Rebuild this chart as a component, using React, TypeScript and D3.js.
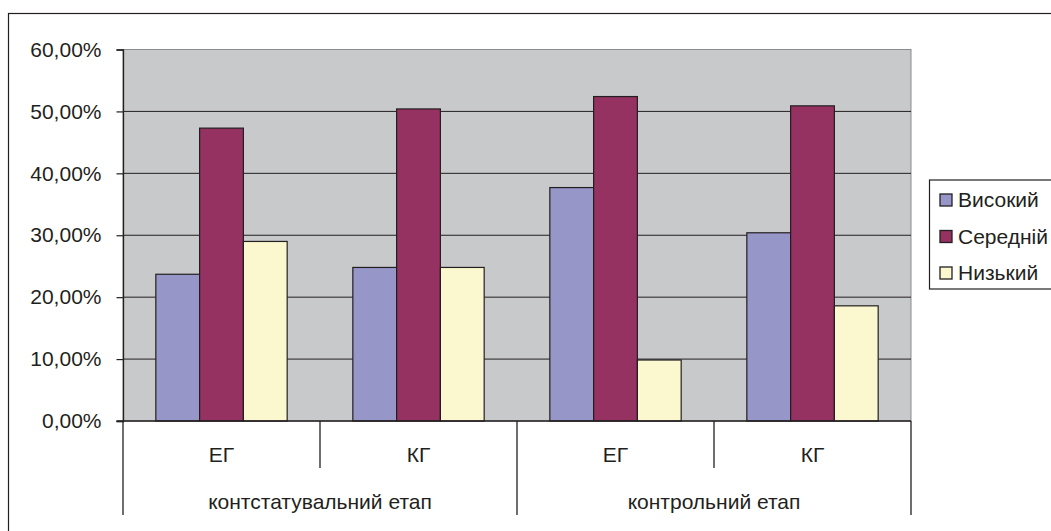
import React, { useEffect, useRef } from "react";
import * as d3 from "d3";

// DATA
const groups = ["ЕГ", "КГ", "ЕГ", "КГ"];
const stages = ["контстатувальний етап", "контрольний етап"];
const seriesNames = ["Високий", "Середній", "Низький"];
const high = [0.237, 0.248, 0.377, 0.304];
const middle = [0.473, 0.504, 0.524, 0.509];
const low = [0.29, 0.248, 0.0985, 0.186];
const yTicks = [0, 0.1, 0.2, 0.3, 0.4, 0.5, 0.6];

const colors = ["#9696c9", "#963262", "#fbf8cf"];
const ink = "#231f20";

export default function App() {
  const ref = useRef<SVGSVGElement | null>(null);

  useEffect(() => {
    const svg = d3.select(ref.current);
    svg.selectAll("*").remove();

    const left = 123;
    const right = 911;
    const top = 49.5;
    const bottom = 421;
    const font = "Arial, 'Liberation Sans', sans-serif";
    const fs = 21;

    // outer frame (clipped on right/bottom like the source)
    svg
      .append("rect")
      .attr("x", 8.5)
      .attr("y", 13.5)
      .attr("width", 1200)
      .attr("height", 700)
      .attr("fill", "#fff")
      .attr("stroke", ink)
      .attr("stroke-width", 1.2);

    // SCALES
    const x0 = d3
      .scaleBand<number>()
      .domain(d3.range(groups.length))
      .range([left, right])
      .padding(0);
    const x1 = d3
      .scaleBand<string>()
      .domain(seriesNames)
      .range([0, x0.bandwidth()])
      .paddingInner(0)
      .paddingOuter(0.75);
    const y = d3.scaleLinear().domain([0, 0.6]).range([bottom, top]);

    // plot area
    svg
      .append("rect")
      .attr("x", left)
      .attr("y", top)
      .attr("width", right - left)
      .attr("height", bottom - top)
      .attr("fill", "#c8c9cb")
      .attr("stroke", "#8a8b8d")
      .attr("stroke-width", 1);

    // Y GRID
    svg
      .append("g")
      .selectAll("line")
      .data(yTicks.filter((t) => t > 0 && t < 0.6))
      .join("line")
      .attr("x1", left)
      .attr("x2", right)
      .attr("y1", (d) => y(d))
      .attr("y2", (d) => y(d))
      .attr("stroke", ink)
      .attr("stroke-width", 1);

    // BARS
    const series = [high, middle, low];
    series.forEach((vals, si) => {
      svg
        .append("g")
        .selectAll("rect")
        .data(vals)
        .join("rect")
        .attr("x", (_, i) => (x0(i) as number) + (x1(seriesNames[si]) as number))
        .attr("y", (d) => y(d))
        .attr("width", x1.bandwidth())
        .attr("height", (d) => bottom - y(d))
        .attr("fill", colors[si])
        .attr("stroke", ink)
        .attr("stroke-width", 1.2);
    });

    // Y AXIS
    const fmt = (d: number) => d3.format(".2%")(d).replace(".", ",");
    const yAxis = svg
      .append("g")
      .attr("transform", `translate(${left},0)`)
      .call(d3.axisLeft(y).tickValues(yTicks).tickSize(6.5).tickPadding(15).tickFormat((d) => fmt(d as number)));
    yAxis.select(".domain").attr("stroke", ink).attr("stroke-width", 1.3);
    yAxis.selectAll(".tick line").attr("stroke", ink).attr("stroke-width", 1.2);
    yAxis
      .selectAll(".tick text")
      .attr("fill", ink)
      .attr("font-size", fs)
      .attr("font-family", font);

    // X AXIS line
    svg
      .append("line")
      .attr("x1", left - 6.5)
      .attr("x2", right)
      .attr("y1", bottom)
      .attr("y2", bottom)
      .attr("stroke", ink)
      .attr("stroke-width", 1.5);

    // category dividers
    const catEdges = d3.range(groups.length + 1).map((i) => left + i * x0.bandwidth());
    svg
      .append("g")
      .selectAll("line")
      .data(catEdges)
      .join("line")
      .attr("x1", (d) => d)
      .attr("x2", (d) => d)
      .attr("y1", bottom)
      .attr("y2", (_, i) => (i % 2 === 0 ? 515 : 468))
      .attr("stroke", ink)
      .attr("stroke-width", 1.3);

    // category labels
    svg
      .append("g")
      .selectAll("text")
      .data(groups)
      .join("text")
      .attr("x", (_, i) => (x0(i) as number) + x0.bandwidth() / 2)
      .attr("y", 455)
      .attr("dy", "0.35em")
      .attr("text-anchor", "middle")
      .attr("font-size", fs)
      .attr("font-family", font)
      .attr("fill", ink)
      .text((d) => d);

    // stage labels
    svg
      .append("g")
      .selectAll("text")
      .data(stages)
      .join("text")
      .attr("x", (_, i) => left + (i * 2 + 1) * x0.bandwidth())
      .attr("y", 502)
      .attr("dy", "0.35em")
      .attr("text-anchor", "middle")
      .attr("font-size", fs)
      .attr("font-family", font)
      .attr("fill", ink)
      .text((d) => d);

    // LEGEND
    const legend = svg.append("g");
    legend
      .append("rect")
      .attr("x", 929.5)
      .attr("y", 180)
      .attr("width", 200)
      .attr("height", 109)
      .attr("fill", "#fff")
      .attr("stroke", ink)
      .attr("stroke-width", 1.2);
    const items = legend
      .selectAll("g")
      .data(seriesNames)
      .join("g")
      .attr("transform", (_, i) => `translate(0,${200 + i * 36.5})`);
    items
      .append("rect")
      .attr("x", 940)
      .attr("y", -6)
      .attr("width", 12)
      .attr("height", 12)
      .attr("fill", (_, i) => colors[i])
      .attr("stroke", ink)
      .attr("stroke-width", 1.3);
    items
      .append("text")
      .attr("x", 958)
      .attr("dy", "0.35em")
      .attr("font-size", fs)
      .attr("font-family", font)
      .attr("fill", ink)
      .text((d) => d);
  }, []);

  return (
    <svg
      ref={ref}
      width={1051}
      height={531}
      style={{ position: "absolute", left: 0, top: 0, background: "#fff" }}
    />
  );
}
